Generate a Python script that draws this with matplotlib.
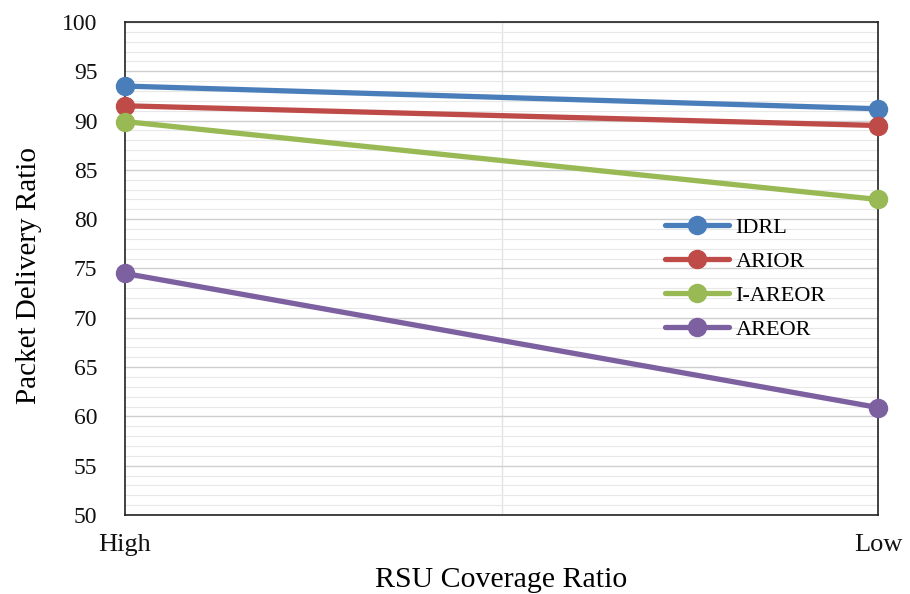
import matplotlib
matplotlib.use("Agg")
import matplotlib.pyplot as plt
from matplotlib.ticker import MultipleLocator

categories = ["High", "Low"]
idrl = [93.5, 91.2]
arior = [91.5, 89.5]
i_areor = [89.9, 82.0]
areor = [74.5, 60.9]

series = [
    ("IDRL", idrl, "#4A7EBB"),
    ("ARIOR", arior, "#BE4B48"),
    ("I-AREOR", i_areor, "#98B954"),
    ("AREOR", areor, "#7D60A0"),
]

plt.rcParams["font.family"] = ["Liberation Serif", "DejaVu Serif"]

fig = plt.figure(figsize=(9.1, 5.94), dpi=100)
ax = fig.add_axes([0.1374, 0.133, 0.8274, 0.830])

x = list(range(len(categories)))
for name, vals, col in series:
    ax.plot(x, vals, color=col, lw=3.8, marker="o", ms=13,
            solid_capstyle="round", label=name, zorder=3, clip_on=False)

ax.set_xlim(0, 1)
ax.set_ylim(50, 100)
ax.yaxis.set_major_locator(MultipleLocator(5))
ax.yaxis.set_minor_locator(MultipleLocator(1))
ax.grid(which="major", axis="y", color="#cfcfcf", lw=1.0, zorder=0)
ax.grid(which="minor", axis="y", color="#e8e8e8", lw=0.8, zorder=0)
ax.axvline(0.5, color="#e3e3e3", lw=1.0, zorder=0)

ax.set_xticks(x)
ax.set_xticklabels(categories)
ax.tick_params(axis="both", which="both", length=0, colors="#111111")
ax.tick_params(axis="y", labelsize=17, pad=20)
ax.tick_params(axis="x", labelsize=19, pad=14)
for s in ax.spines.values():
    s.set_color("#222222")
    s.set_linewidth(1.2)

ax.set_xlabel("RSU Coverage Ratio", fontsize=21.5)
ax.xaxis.set_label_coords(0.5, -0.105)
ax.set_ylabel("Packet Delivery Ratio", fontsize=21)
ax.yaxis.set_label_coords(-0.110, 0.485)

leg = ax.legend(loc="upper left", bbox_to_anchor=(0.706, 0.621), frameon=False,
                fontsize=16, handlelength=2.85, handletextpad=0.3,
                labelspacing=0.6, borderaxespad=0)

fig.savefig("out.png", dpi=100, facecolor="white")
